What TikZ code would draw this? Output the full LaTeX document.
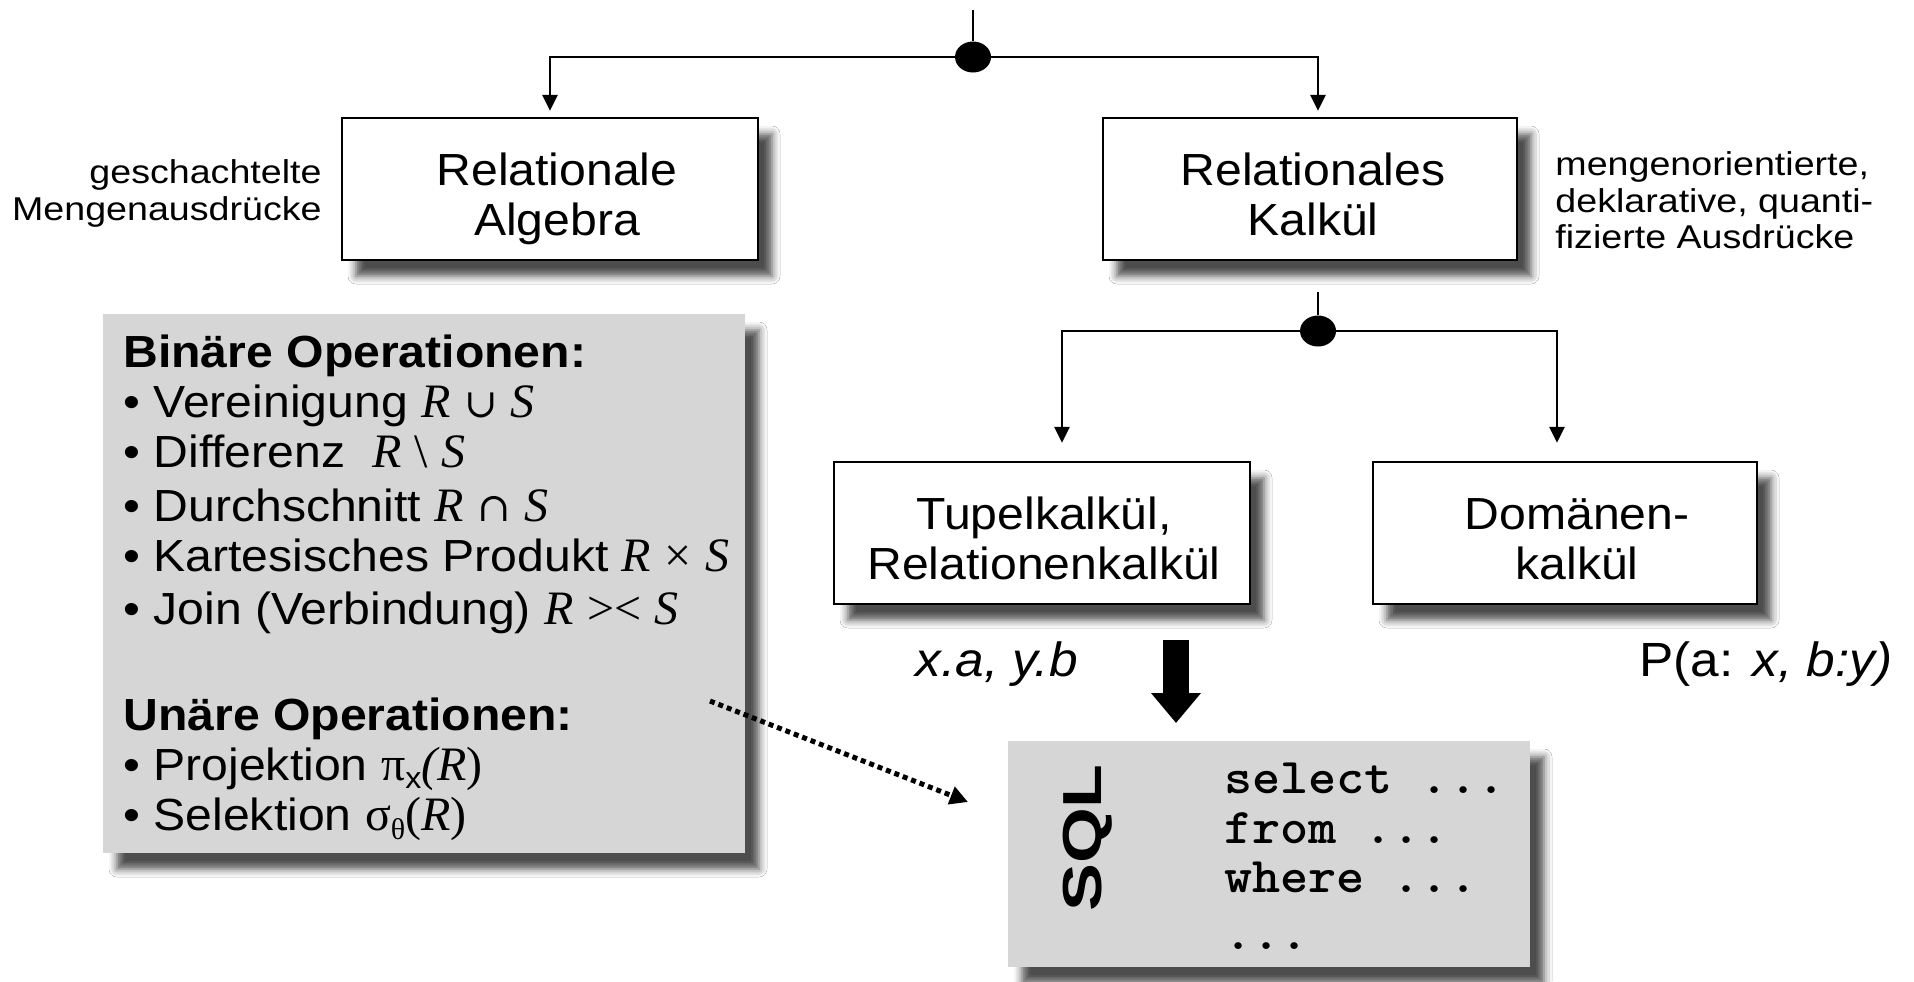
\documentclass[tikz,border=0pt]{standalone}
\usepackage{fontspec}
\setmainfont[FakeStretch=1.07]{Liberation Sans}
\newfontfamily\sidefont[FakeStretch=1.14]{Liberation Sans}
\newfontfamily\tmsfont{Liberation Serif}
\newfontfamily\dvsfont{DejaVu Serif}
\newfontfamily\codefont[FakeStretch=1.07]{lmmonolt10-bold.otf}
\usetikzlibrary{arrows.meta,shapes.geometric,shadows.blur}
\definecolor{panelgray}{RGB}{214,214,214}
\newcommand\vR{{\tmsfont\fontsize{24}{24}\selectfont\itshape R}}
\newcommand\vS{{\tmsfont\fontsize{24}{24}\selectfont\itshape S}}
\newcommand\vop[1]{{\dvsfont\fontsize{20}{20}\selectfont #1}}
\newcommand\vtm[1]{{\tmsfont\fontsize{24}{24}\selectfont #1}}
\begin{document}
\begin{tikzpicture}[x=0.5pt,y=-0.5pt,
  shade/.style={blur shadow={shadow xshift=7pt,shadow yshift=-8pt,shadow blur radius=4pt,shadow opacity=70}},
  whitebox/.style={draw=black,line width=1.2pt,fill=white,inner sep=0,shade},
  graybox/.style={draw=none,fill=panelgray,inner sep=0,shade},
  boxtext/.style={anchor=base,inner sep=0,font=\fontsize{22.5}{25}\selectfont},
  sidetext/.style={inner sep=0,font=\sidefont\fontsize{16.5}{18.5}\selectfont},
  optext/.style={anchor=base west,inner sep=0,font=\fontsize{22.5}{25}\selectfont},
  codetext/.style={anchor=base west,inner sep=0,font=\codefont\fontsize{25}{27}\selectfont},
  labeltext/.style={anchor=base east,inner sep=0,font=\fontsize{24}{26}\selectfont},
  junction/.style={ellipse,fill=black,minimum width=18pt,minimum height=15.5pt,inner sep=0},
  conn/.style={line width=1.3pt},
  arr/.style={line width=1.3pt,-{Triangle[width=7.5pt,length=8pt]}},
]
\useasboundingbox (0,0) rectangle (1914,981);
\fill[white] (0,0) rectangle (1914,981);

% boxes
\node[whitebox,minimum width=208pt,minimum height=71pt] (ra) at (550,189) {};
\node[whitebox,minimum width=207pt,minimum height=71pt] (rk) at (1310,189) {};
\node[whitebox,minimum width=208pt,minimum height=71pt] (tk) at (1042,533) {};
\node[whitebox,minimum width=192pt,minimum height=71pt] (dk) at (1565,533) {};
\node[graybox,minimum width=321pt,minimum height=269.5pt] (ops) at (424,583.5) {};
\node[graybox,minimum width=261pt,minimum height=113pt] (sql) at (1269,854) {};

% box texts
\node[boxtext] (ra1) at (557,185) {Relationale};
\node[boxtext] (ra2) at (557,235) {Algebra};
\node[boxtext] (rk1) at (1313,185) {Relationales};
\node[boxtext] (rk2) at (1313,235) {Kalkül};
\node[boxtext] (tk1) at (1044,529) {Tupelkalkül,};
\node[boxtext] (tk2) at (1044,579) {Relationenkalkül};
\node[boxtext] (dk1) at (1577,529) {Domänen-};
\node[boxtext] (dk2) at (1577,579) {kalkül};

% side texts
\node[sidetext,anchor=base east] (ls1) at (322,183) {geschachtelte};
\node[sidetext,anchor=base east] (ls2) at (322,220) {Mengenausdrücke};
\node[sidetext,anchor=base west] (rs1) at (1555,175) {mengenorientierte,};
\node[sidetext,anchor=base west] (rs2) at (1555,212) {deklarative, quanti-};
\node[sidetext,anchor=base west] (rs3) at (1555,248) {fizierte Ausdrücke};

% junctions and connectors
\node[junction] (j1) at (973,57) {};
\node[junction] (j2) at (1318,331) {};
\coordinate (topin) at (973,10);
\coordinate (rkout) at (1318,292);
\draw[conn] (topin) -- (j1.north);
\draw[arr,shorten >=3pt] (j1.west) -| (ra.north);
\draw[arr,shorten >=3pt] (j1.east) -| ([xshift=4pt]rk.north);
\draw[conn] (rkout) -- (j2.north);
\draw[arr,shorten >=9pt] (j2.west) -| ([xshift=10pt]tk.north);
\draw[arr,shorten >=9pt] (j2.east) -| ([xshift=-4pt]dk.north);

% labels under calculus boxes
\node[labeltext] (xa) at (1078,676) {\itshape x.a, y.b};
\node[labeltext] (pab) at (1893,676) {P(a: \itshape x, b:y)};

% big arrow
\coordinate (bigs) at (1176,640);
\coordinate (bige) at (1176,723);
\draw[line width=13pt,-{Triangle[width=24pt,length=15pt]}] (bigs) -- (bige);

% dotted arrow
\coordinate (dots) at (710,701);
\coordinate (dote) at (968,802);
\draw[line width=2.5pt,dash pattern=on 2.5pt off 2pt,-{Triangle[width=9pt,length=9pt]}] (dots) -- (dote);

% operations panel
\node[optext] (o1) at (123,367) {\bfseries Binäre Operationen:};
\node[optext] (o2) at (123,417) {• Vereinigung \vR\ \vop{∪} \vS};
\node[optext] (o3) at (123,467) {• Differenz \ \vR\ \vtm{\textbackslash}\ \vS};
\node[optext] (o4) at (123,521) {• Durchschnitt \vR\ \vop{∩} \vS};
\node[optext] (o5) at (123,571) {• Kartesisches Produkt \vR\ \vtm{×} \vS};
\node[optext] (o6) at (123,624) {• Join (Verbindung) \vR\ \vtm{><} \vS};
\node[optext] (o7) at (123,730) {\bfseries Unäre Operationen:};
\node[optext] (o8) at (123,780) {• Projektion \vtm{π}\raisebox{-0.35ex}{\fontsize{15}{15}\selectfont x}{\tmsfont\fontsize{24}{24}\selectfont\itshape (R}\vtm{)}};
\node[optext] (o9) at (123,830) {• Selektion \vtm{σ}\raisebox{-0.4ex}{\tmsfont\fontsize{15}{15}\selectfont θ}\vtm{(}\vR\vtm{)}};

% SQL box content
\node[rotate=90,inner sep=0,font=\fontsize{27.5}{28}\selectfont\bfseries] (sqlt) at (1088,838) {\scalebox{1.22}[1]{SQL}};
\node[codetext] (c1) at (1224,793) {select ...};
\node[codetext] (c2) at (1224,843) {from ...};
\node[codetext] (c3) at (1224,892) {where ...};
\node[codetext] (c4) at (1224,949) {...};
\end{tikzpicture}
\end{document}
